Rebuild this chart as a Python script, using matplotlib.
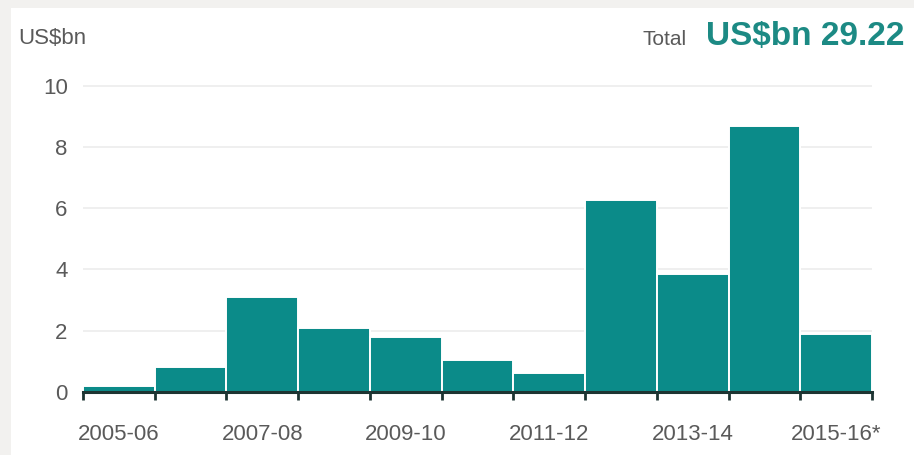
import matplotlib
matplotlib.use("Agg")
import matplotlib.pyplot as plt
from matplotlib.patches import Rectangle
import numpy as np

plt.rcParams['font.family'] = ['Liberation Sans', 'DejaVu Sans']

# yearly values, US$bn
years = ['2005-06', '2006-07', '2007-08', '2008-09', '2009-10', '2010-11',
         '2011-12', '2012-13', '2013-14', '2014-15', '2015-16*']
values = [0.2, 0.83, 3.11, 2.08, 1.78, 1.04, 0.61, 6.26, 3.84, 8.68, 1.89]
total = 29.22
y_ticks = [0, 2, 4, 6, 8, 10]

W, H = 914, 455
bar_color = '#0b8b89'
axis_color = '#1d3432'
label_color = '#5a5a5a'

fig = plt.figure(figsize=(W / 100, H / 100), dpi=100)
fig.patch.set_facecolor('white')

# grey frame on the left and top edges
fig.patches.append(Rectangle((0, 0), 11 / W, 1, transform=fig.transFigure,
                             facecolor='#f2f1ef', edgecolor='none', zorder=0))
fig.patches.append(Rectangle((0, 1 - 8 / H), 1, 8 / H, transform=fig.transFigure,
                             facecolor='#f2f1ef', edgecolor='none', zorder=0))

ax = fig.add_axes([83 / W, (H - 392) / H, 789 / W, 321.8 / H])
ax.set_facecolor('none')

x = np.arange(len(years))
ax.bar(x, values, width=1.0, color=bar_color, edgecolor='white',
       linewidth=1.4, zorder=2)

ax.set_xlim(-0.5, len(years) - 0.5)
ax.set_ylim(0, 10.5)

for s in ['top', 'left', 'right']:
    ax.spines[s].set_visible(False)
ax.spines['bottom'].set_color(axis_color)
ax.spines['bottom'].set_linewidth(2.2)
ax.spines['bottom'].set_zorder(3)

ax.set_yticks(y_ticks)
ax.yaxis.grid(True, color='#ececec', linewidth=1.2, zorder=0)
ax.tick_params(axis='y', length=0, pad=11, labelsize=16, labelcolor=label_color)

# labels every other year, tick marks at the bar edges
ax.set_xticks(x[::2])
ax.set_xticklabels(years[::2])
ax.set_xticks(np.arange(len(years) + 1) - 0.5, minor=True)
ax.tick_params(axis='x', which='major', length=0, pad=23, labelsize=16,
               labelcolor=label_color)
ax.tick_params(axis='x', which='minor', length=6, width=2, color=axis_color)

fig.text(18 / W, 1 - 44 / H, 'US$bn', fontsize=16, color=label_color,
         ha='left', va='baseline')
fig.text(687 / W, 1 - 45 / H, 'Total', fontsize=15, color=label_color,
         ha='right', va='baseline')
fig.text(905 / W, 1 - 45 / H, f'US$bn {total:.2f}', fontsize=24,
         fontweight='bold', color='#1c8a84', ha='right', va='baseline')

fig.savefig('out.png', dpi=100, facecolor=fig.get_facecolor())
